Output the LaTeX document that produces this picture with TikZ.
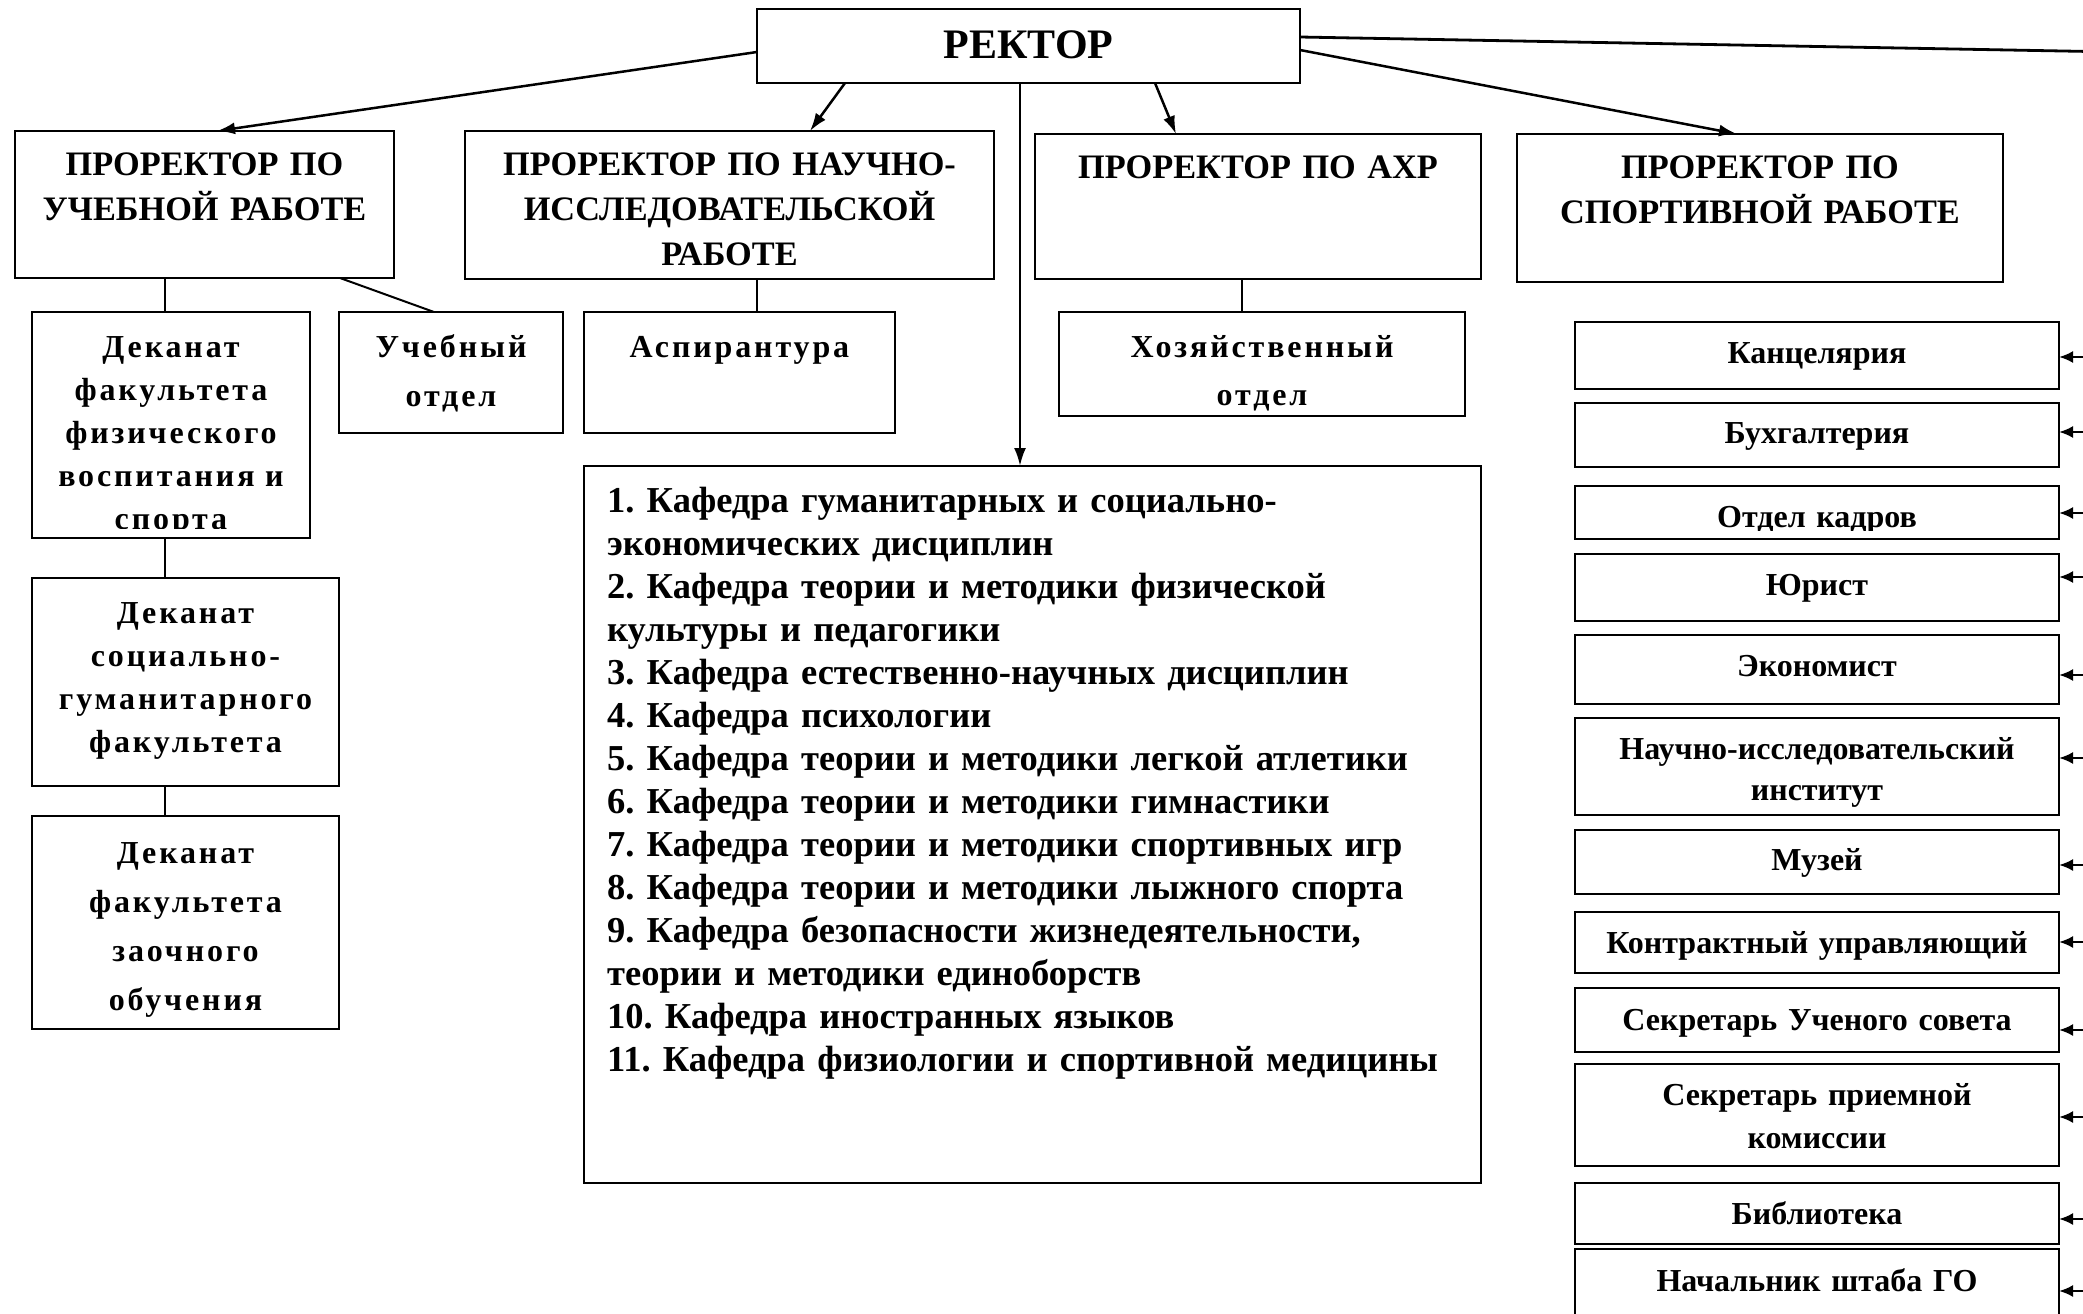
\documentclass[tikz,border=0pt]{standalone}
\usepackage{fontspec}
\setmainfont{Liberation Serif}
\newfontfamily\spc[LetterSpace=9]{Liberation Serif}
\usetikzlibrary{arrows.meta,calc}
\frenchspacing
\newcommand\mkbox[5]{\node[bx, minimum width={#4-#2}, minimum height={#5-#3}] (#1) at ({(#2+#4)/2},{(#3+#5)/2}) {};}
\tikzset{
  bx/.style={draw, rectangle, line width=2.3pt, inner sep=0pt, outer sep=0pt},
  prt/.style={font=\fontsize{34.3}{45}\selectfont\bfseries, align=center, text width=560pt, anchor=base, inner sep=0pt},
  dep/.style={font=\spc\fontsize{32}{43}\selectfont\bfseries, align=center, text width=420pt, anchor=base, inner sep=0pt},
  dep2/.style={dep, font=\spc\fontsize{32}{49}\selectfont\bfseries},
  rt/.style={font=\fontsize{32}{43}\selectfont\bfseries, align=center, text width=480pt, anchor=base, inner sep=0pt},
  kt/.style={font=\fontsize{36.5}{43}\selectfont\bfseries, align=left, text width=900pt, anchor=base west, inner sep=0pt},
  ln/.style={line width=2pt},
  arr/.style={-{Latex[length=18pt,width=12pt]}, line width=2.5pt},
  sarr/.style={-{Latex[length=14pt,width=12pt]}, line width=2.2pt},
}
\begin{document}
\begin{tikzpicture}[x=1pt,y=-1pt]
\useasboundingbox (0,0) rectangle (2083,1314);
\clip (0,0) rectangle (2083,1314);
% boxes
\mkbox{rk}{757}{9}{1300}{83}
\mkbox{pu}{15}{131}{394}{278}
\mkbox{pn}{465}{131}{994}{279}
\mkbox{pa}{1035}{134}{1481}{279}
\mkbox{ps}{1517}{134}{2003}{282}
\mkbox{d1}{32}{312}{310}{538}
\mkbox{uo}{339}{312}{563}{433}
\mkbox{d2}{32}{578}{339}{786}
\mkbox{d3}{32}{816}{339}{1029}
\mkbox{asp}{584}{312}{895}{433}
\mkbox{hoz}{1059}{312}{1465}{416}
\mkbox{kaf}{584}{466}{1481}{1183}
\mkbox{r1}{1575}{322}{2059}{389}
\mkbox{r2}{1575}{403}{2059}{467}
\mkbox{r3}{1575}{486}{2059}{539}
\mkbox{r4}{1575}{554}{2059}{621}
\mkbox{r5}{1575}{635}{2059}{704}
\mkbox{r6}{1575}{718}{2059}{815}
\mkbox{r7}{1575}{830}{2059}{894}
\mkbox{r8}{1575}{912}{2059}{973}
\mkbox{r9}{1575}{988}{2059}{1052}
\mkbox{r10}{1575}{1064}{2059}{1166}
\mkbox{r11}{1575}{1183}{2059}{1244}
\mkbox{r12}{1575}{1249}{2059}{1350}
% texts
\node[font=\fontsize{42}{50}\selectfont\bfseries, anchor=base, inner sep=0pt] (rk-t) at ([yshift=-50pt]rk.north) {РЕКТОР};
\node[prt] (pu-t) at ([yshift=-44pt]pu.north) {ПРОРЕКТОР ПО\\УЧЕБНОЙ РАБОТЕ};
\node[prt] (pn-t) at ([yshift=-44pt]pn.north) {ПРОРЕКТОР ПО НАУЧНО-\\ИССЛЕДОВАТЕЛЬСКОЙ\\РАБОТЕ};
\node[prt] (pa-t) at ([yshift=-44pt]pa.north) {ПРОРЕКТОР ПО АХР};
\node[prt] (ps-t) at ([yshift=-44pt]ps.north) {ПРОРЕКТОР ПО\\СПОРТИВНОЙ РАБОТЕ};
\begin{scope}
\clip (d1.north west) rectangle ([yshift=10pt]d1.south east);
\node[dep] (d1-t) at ([yshift=-45pt]d1.north) {Деканат\\факультета\\физического\\воспитания и\\спорта};
\end{scope}
\node[dep2] (uo-t) at ([yshift=-45pt]uo.north) {Учебный\\отдел};
\node[dep] (d2-t) at ([yshift=-45pt]d2.north) {Деканат\\социально-\\гуманитарного\\факультета};
\node[dep2] (d3-t) at ([yshift=-47pt]d3.north) {Деканат\\факультета\\заочного\\обучения};
\node[dep] (asp-t) at ([yshift=-45pt]asp.north) {Аспирантура};
\node[dep, font=\spc\fontsize{32}{48}\selectfont\bfseries] (hoz-t) at ([yshift=-45pt]hoz.north) {Хозяйственный\\отдел};
\node[kt] (kaf-t) at (607,512) {1. Кафедра гуманитарных и социально-\\экономических дисциплин\\2. Кафедра теории и методики физической\\культуры и педагогики\\3. Кафедра естественно-научных дисциплин\\4. Кафедра психологии\\5. Кафедра теории и методики легкой атлетики\\6. Кафедра теории и методики гимнастики\\7. Кафедра теории и методики спортивных игр\\8. Кафедра теории и методики лыжного спорта\\9. Кафедра безопасности жизнедеятельности,\\теории и методики единоборств\\10. Кафедра иностранных языков\\11. Кафедра физиологии и спортивной медицины};
\node[rt] (r1-t) at ([yshift=-41pt]r1.north) {Канцелярия};
\node[rt] (r2-t) at ([yshift=-40pt]r2.north) {Бухгалтерия};
\begin{scope}
\clip (r3.north west) rectangle ([yshift=9pt]r3.south east);
\node[rt] (r3-t) at ([yshift=-41pt]r3.north) {Отдел кадров};
\end{scope}
\node[rt] (r4-t) at ([yshift=-41pt]r4.north) {Юрист};
\node[rt] (r5-t) at ([yshift=-41pt]r5.north) {Экономист};
\node[rt, font=\fontsize{32}{41}\selectfont\bfseries] (r6-t) at ([yshift=-41pt]r6.north) {Научно-исследовательский\\институт};
\node[rt] (r7-t) at ([yshift=-40pt]r7.north) {Музей};
\node[rt] (r8-t) at ([yshift=-41pt]r8.north) {Контрактный управляющий};
\node[rt] (r9-t) at ([yshift=-42pt]r9.north) {Секретарь Ученого совета};
\node[rt] (r10-t) at ([yshift=-41pt]r10.north) {Секретарь приемной\\комиссии};
\node[rt] (r11-t) at ([yshift=-41pt]r11.north) {Библиотека};
\node[rt] (r12-t) at ([yshift=-42pt]r12.north) {Начальник штаба ГО};
% rector arrows
\draw[arr] ([yshift=-6pt]rk.west) -- ([xshift=12.5pt]pu.north);
\draw[arr] ([xshift=-183.5pt]rk.south) -- ([xshift=80.5pt]pn.north);
\draw[arr] ([xshift=-8.5pt]rk.south) -- ([xshift=-12.5pt]kaf.north);
\draw[arr] ([xshift=126.5pt]rk.south) -- ([xshift=-82pt]pa.north);
\draw[arr] ([yshift=-4pt]rk.east) -- ([xshift=-23pt]ps.north);
\coordinate (offr) at (2090,51.5);
\draw[line width=2.8pt] ([yshift=9pt]rk.east) -- (offr);
% plain connectors
\draw[ln] ([xshift=-39.5pt]pu.south) -- ([xshift=-6pt]d1.north);
\draw[ln] ([xshift=-6pt]d1.south) -- ([xshift=-20.5pt]d2.north);
\draw[ln] ([xshift=-20.5pt]d2.south) -- ([xshift=-20.5pt]d3.north);
\draw[ln] ([xshift=135.5pt]pu.south) -- ([xshift=-17pt]uo.north);
\draw[ln] ([xshift=27.5pt]pn.south) -- ([xshift=17.5pt]asp.north);
\draw[ln] ([xshift=-16pt]pa.south) -- ([xshift=-20pt]hoz.north);
% stubs from the right
\foreach \n/\yy in {1/357,2/432,3/513,4/577,5/675,6/758,7/865,8/942,9/1030,10/1117,11/1219,12/1291}{
  \coordinate (s\n) at (2090,\yy);
  \draw[sarr] (s\n) -- (s\n -| r\n.east);
}
\end{tikzpicture}
\end{document}
